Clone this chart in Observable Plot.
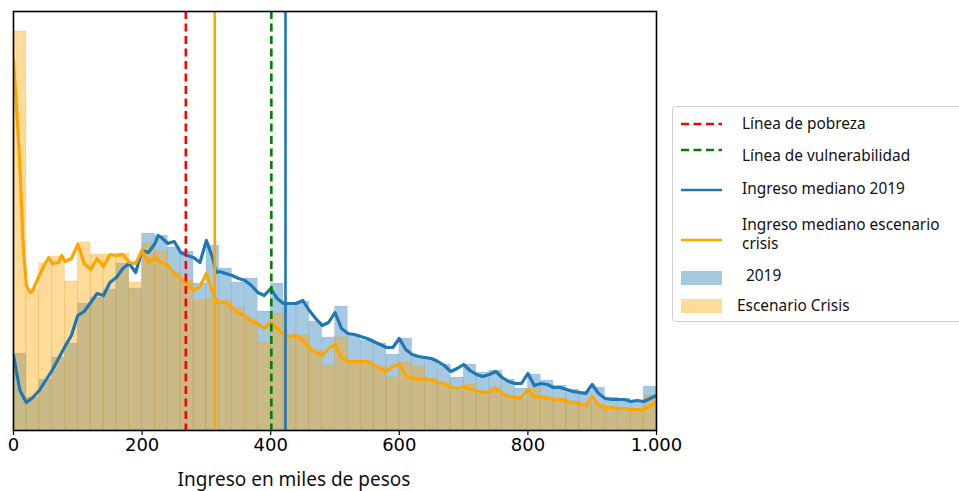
<!DOCTYPE html>
<html>
<head>
<meta charset="utf-8">
<script src="https://cdn.jsdelivr.net/npm/d3@7"></script>
<script src="https://cdn.jsdelivr.net/npm/@observablehq/plot@0.6"></script>
<style>
  html, body { margin: 0; padding: 0; background: #fff; }
  #wrap { position: relative; width: 959px; height: 491px; overflow: hidden; }
  #xlabel { position: absolute; left: 0; width: 588px; top: 468px; text-align: center;
            font-family: "Noto Sans", sans-serif; font-size: 19px; line-height: 22px; color: #111; }
  #legend { position: absolute; left: 672px; top: 106px; width: 300px; height: 216px;
            border: 1.3px solid #d0d0d0; border-radius: 4px; box-sizing: border-box; }
  .lg { position: absolute; font-family: "Noto Sans", sans-serif; font-size: 15.4px; color: #111;
        line-height: 19px; white-space: pre; }
</style>
</head>
<body>
<div id="wrap"></div>
<script>
// ---- data (heights in arbitrary density units) ----
const binWidth = 20;
const binStarts = d3.range(0, 1000, binWidth);
const hist2019 = [77,33,51,73,87,127,133,141,167,142,197,195,183,179,147,185,162,148,152,119,
                  147,128,129,109,93,124,96,90,87,76,92,73,71,66,53,66,58,60,51,42,
                  56,50,45,41,39,43,33,32,29,44];
const histCrisis = [399,141,167,174,149,188,176,176,177,148,187,179,158,150,130,132,130,123,111,88,
                    117,95,95,80,65,93,69,69,64,53,68,64,52,48,39,46,39,43,35,31,
                    42,33,32,29,26,26,23,21,20,35];

const kdeX2019 = [0,10,20,30,40,50,60,70,80,90,100,110,120,130,140,150,160,170,180,190,200,210,220,225,230,240,250,260,270,280,290,300,310,315,320,330,340,350,360,370,380,390,400,410,420,430,440,450,460,470,480,490,500,510,520,530,540,550,560,570,580,590,600,610,620,630,640,650,660,670,680,690,700,710,720,730,740,750,760,770,780,790,800,810,820,830,840,850,860,870,880,890,900,910,920,930,940,950,960,970,980,990,1000];
const kde2019 = [75,40,28,33,40,50,60,72,84,95,115,119,128,137,135,148,153,162,167,158,180,178,187,195,193,187,189,178,175,173,168,190,172,158,159,157,155,152,150,145,138,135,142,132,127,127,127,130,120,112,105,108,118,102,97,96,94,92,89,86,83,83,92,81,76,74,73,72,69,65,59,62,66,60,56,54,56,59,53,49,47,47,57,45,47,46,43,43,41,39,38,37,46,37,32,31,31,31,29,30,29,32,35];

const kdeXCrisis = [0,5,10,15,20,26,30,40,50,55,60,70,75,80,90,100,110,120,130,140,150,160,170,180,190,200,210,220,230,240,250,260,270,280,290,300,310,315,320,330,340,350,360,370,380,390,400,410,420,430,440,450,460,470,480,490,500,510,520,530,540,550,560,570,580,590,600,610,620,630,640,650,660,670,680,690,700,710,720,730,740,750,760,770,780,790,800,810,820,830,840,850,860,870,880,890,900,910,920,930,940,950,960,970,980,990,1000];
const kdeCrisis = [370,320,265,185,145,138,140,155,168,173,167,168,175,169,172,186,167,161,172,164,176,175,176,168,167,180,168,173,168,165,157,152,147,140,144,157,138,129,128,128,123,117,115,109,107,102,108,102,96,94,95,90,83,78,75,82,86,73,69,69,69,69,66,62,59,64,66,55,52,51,52,50,48,47,43,42,44,41,40,38,38,42,37,34,33,33,41,33,34,33,31,31,29,28,27,25,34,25,23,23,22,22,21,21,21,24,29];

const lineaPobreza = 268;
const lineaVulnerabilidad = 401;
const mediana2019 = 423;
const medianaCrisis = 313;

const xTicks = [0, 200, 400, 600, 800, 1000];
const xTickLabels = ["0", "200", "400", "600", "800", "1.000"];

const legendLabels = ["Línea de pobreza", "Línea de vulnerabilidad", "Ingreso mediano 2019",
                      "Ingreso mediano escenario\ncrisis", " 2019", "Escenario Crisis"];

// ---- tables ----
const bins2019 = binStarts.map((x0, i) => ({x0, x1: x0 + binWidth, h: hist2019[i]}));
const binsCrisis = binStarts.map((x0, i) => ({x0, x1: x0 + binWidth, h: histCrisis[i]}));
const line2019 = kdeX2019.map((x, i) => ({x, y: kde2019[i]}));
const lineCrisis = kdeXCrisis.map((x, i) => ({x, y: kdeCrisis[i]}));

const BLUE = "#1f77b4", ORANGE = "#ffa500";

const chart = Plot.plot({
  width: 959,
  height: 491,
  marginLeft: 13,
  marginRight: 303,
  marginTop: 11,
  marginBottom: 61,
  x: {domain: [0, 1000]},
  y: {domain: [0, 419], axis: null},
  style: {fontFamily: "DejaVu Sans, sans-serif", background: "white"},
  marks: [
    Plot.rectY(bins2019, {x1: "x0", x2: "x1", y: "h", fill: BLUE, fillOpacity: 0.4,
                          stroke: BLUE, strokeOpacity: 0.15, strokeWidth: 0.6}),
    Plot.rectY(binsCrisis, {x1: "x0", x2: "x1", y: "h", fill: ORANGE, fillOpacity: 0.4,
                            stroke: "#e0a030", strokeOpacity: 0.35, strokeWidth: 0.6}),
    Plot.line(line2019, {x: "x", y: "y", stroke: BLUE, strokeWidth: 3.2, clip: true}),
    Plot.line(lineCrisis, {x: "x", y: "y", stroke: ORANGE, strokeWidth: 3.2, clip: true}),
    Plot.ruleX([lineaPobreza], {stroke: "red", strokeWidth: 2.6, strokeDasharray: "8,4.5"}),
    Plot.ruleX([medianaCrisis], {stroke: ORANGE, strokeWidth: 2.6}),
    Plot.ruleX([lineaVulnerabilidad], {stroke: "green", strokeWidth: 2.6, strokeDasharray: "8,4.5"}),
    Plot.ruleX([mediana2019], {stroke: BLUE, strokeWidth: 2.6}),
    Plot.frame({stroke: "black", strokeWidth: 1.6}),
    Plot.axisX({ticks: xTicks, tickFormat: (d, i) => xTickLabels[i], tickSize: 5, tickPadding: 3,
                fontSize: 18, label: null, stroke: "black", strokeWidth: 1.2, color: "black"})
  ]
});

const wrap = document.getElementById("wrap");
wrap.appendChild(chart);

const xl = document.createElement("div");
xl.id = "xlabel";
xl.textContent = "Ingreso en miles de pesos";
wrap.appendChild(xl);

// ---- legend (HTML, placed to the right of the plot) ----
const leg = document.createElement("div");
leg.id = "legend";
wrap.appendChild(leg);
const legendStyle = [
  {kind: "line", color: "red", dash: "8,4.5", sy: 123, tx: 741, ty: 122},
  {kind: "line", color: "green", dash: "8,4.5", sy: 149, tx: 741, ty: 154},
  {kind: "line", color: BLUE, dash: null, sy: 189, tx: 741, ty: 187},
  {kind: "line", color: ORANGE, dash: null, sy: 239, tx: 741, ty: 233},
  {kind: "patch", color: BLUE, sy: 277, tx: 741, ty: 274},
  {kind: "patch", color: ORANGE, sy: 305, tx: 736, ty: 304}
];
legendLabels.forEach((lab, i) => {
  const s = legendStyle[i];
  const sw = document.createElementNS("http://www.w3.org/2000/svg", "svg");
  sw.setAttribute("width", 44); sw.setAttribute("height", 18);
  sw.style.position = "absolute";
  sw.style.left = (679 - 672) + "px";
  sw.style.top = (s.sy - 9 - 106) + "px";
  if (s.kind === "line") {
    sw.innerHTML = `<line x1="1" x2="42" y1="9" y2="9" stroke="${s.color}" stroke-width="2.6" ${s.dash ? `stroke-dasharray="${s.dash}"` : ""}/>`;
  } else {
    sw.innerHTML = `<rect x="1" y="2" width="41" height="14" fill="${s.color}" fill-opacity="0.4"/>`;
  }
  leg.appendChild(sw);
  const t = document.createElement("div");
  t.className = "lg";
  t.textContent = lab;
  const nLines = lab.split("\n").length;
  t.style.left = (s.tx - 672) + "px";
  t.style.top = (s.ty - 106 - nLines * 19 / 2) + "px";
  leg.appendChild(t);
});
</script>
</body>
</html>
